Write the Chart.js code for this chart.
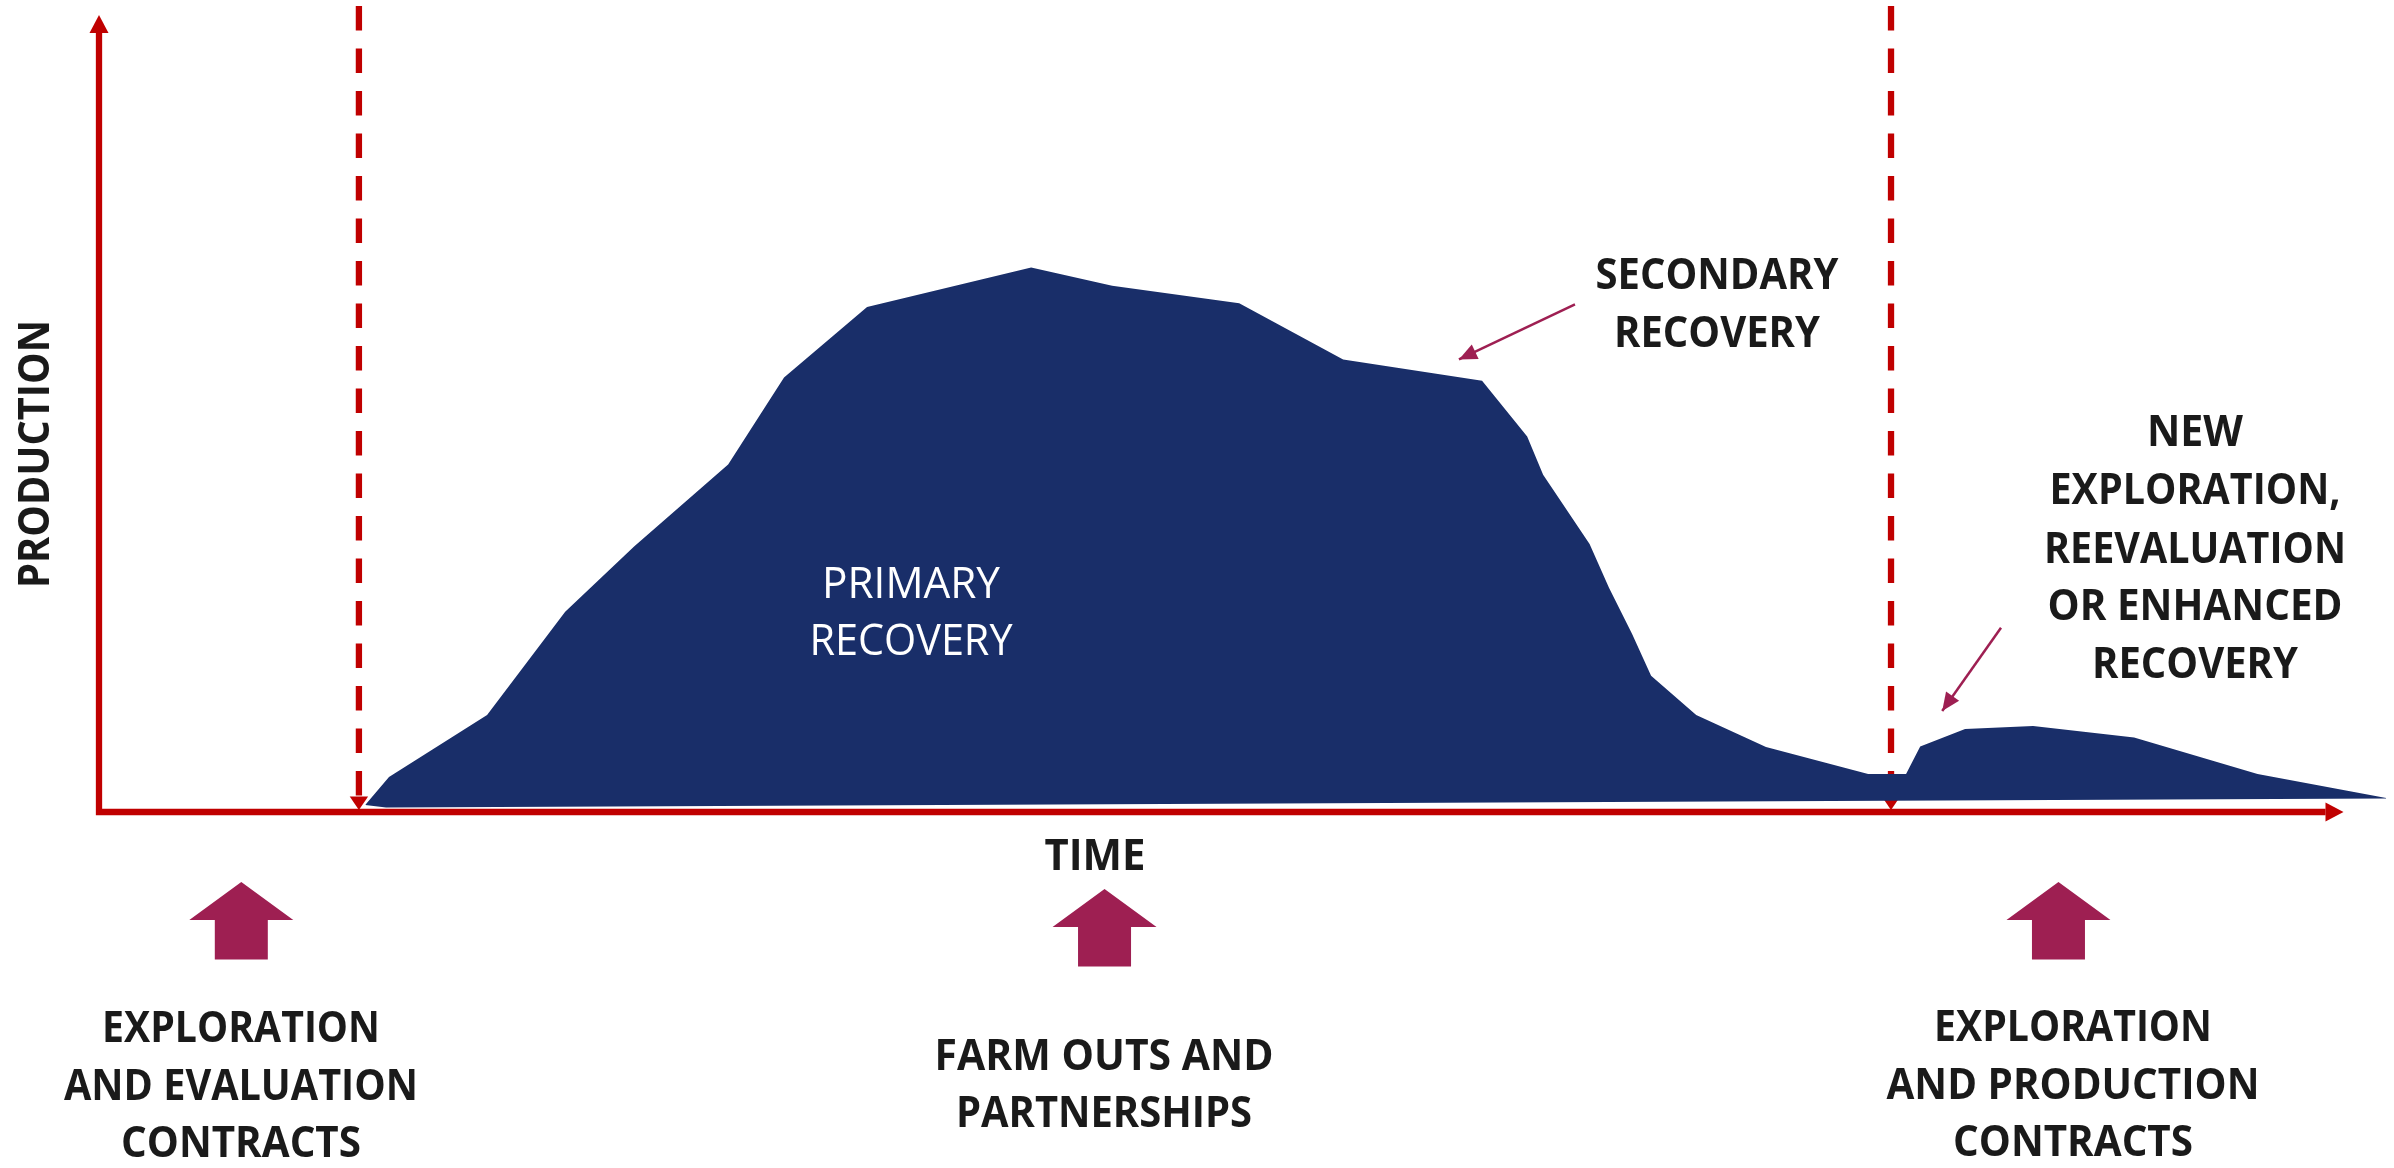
<!DOCTYPE html>
<html>
<head>
<meta charset="utf-8">
<style>html,body{margin:0;padding:0;background:#fff}canvas{display:block}</style>
<script src="https://cdn.jsdelivr.net/npm/chart.js@4/dist/chart.umd.min.js"></script>
</head>
<body>
<canvas id="c" width="2394" height="1168"></canvas>
<script>
// Production profile over a field's life (relative units, 0-100 on both axes)
const timeValues = [11.86,12.92,17.29,20.77,23.84,28.03,30.52,34.22,41.53,45.14,50.8,55.43,61.62,63.63,64.34,66.41,67.28,68.3,69.15,71.16,74.27,78.82,80.51,81.14,83.14,86.17,90.67,96.17,101.9];
const productionValues = [0.87,4.39,12.18,25.12,33.3,43.59,54.52,63.37,68.32,66.02,63.82,56.78,54.12,47.12,42.32,33.62,28.12,22.37,17.08,12.18,8.16,4.77,4.77,8.22,10.42,10.8,9.35,4.77,1.75];
// Lower edge of the filled profile
const floorTime = [11.86,12.79,101.9];
const floorProduction = [0.87,0.56,1.69];
// Phase boundaries on the time axis
const phaseBoundaries = [11.58,79.84];
// Callout leaders: [from, to] in chart units
const secondaryLeaderTime = [65.76,60.59];
const secondaryLeaderProduction = [63.69,56.78];
const enhancedLeaderTime = [84.74,82.12];
const enhancedLeaderProduction = [23.12,12.68];
// Contract-stage markers under the axis
const stageTime = [6.34,44.8,87.3];
const stageProduction = [-8.78,-9.66,-8.78];

const RED = '#C00000', NAVY = '#192E69', PLUM = '#9E1F52', INK = '#1A1A1A';
const CAP_HEIGHT = 30.7;
const pts = (xs, ys) => xs.map((x, i) => ({x, y: ys[i]}));

const labels = [
  {t:'SECONDARY', x:1717, y:274, w:243},
  {t:'RECOVERY', x:1717, y:332, w:206},
  {t:'NEW', x:2195, y:431, w:96},
  {t:'EXPLORATION,', x:2195, y:489, w:291},
  {t:'REEVALUATION', x:2195, y:548, w:302},
  {t:'OR ENHANCED', x:2195, y:605, w:295},
  {t:'RECOVERY', x:2195, y:663, w:206},
  {t:'PRIMARY', x:911, y:583, w:178, light:true},
  {t:'RECOVERY', x:911, y:640, w:203, light:true},
  {t:'TIME', x:1095, y:855, w:101},
  {t:'EXPLORATION', x:241, y:1027, w:278},
  {t:'AND EVALUATION', x:241, y:1085, w:354},
  {t:'CONTRACTS', x:241, y:1142, w:240},
  {t:'FARM OUTS AND', x:1104, y:1055, w:339},
  {t:'PARTNERSHIPS', x:1104, y:1112, w:296},
  {t:'EXPLORATION', x:2073, y:1026, w:278},
  {t:'AND PRODUCTION', x:2073, y:1084, w:373},
  {t:'CONTRACTS', x:2073, y:1141, w:240}
];

function head(ctx, tx, ty, fx, fy, len, half, color) {
  const a = Math.atan2(ty - fy, tx - fx);
  ctx.save();
  ctx.translate(tx, ty);
  ctx.rotate(a);
  ctx.fillStyle = color;
  ctx.beginPath();
  ctx.moveTo(0, 0);
  ctx.lineTo(-len, -half);
  ctx.lineTo(-len, half);
  ctx.closePath();
  ctx.fill();
  ctx.restore();
}

const decorations = {
  id: 'decorations',
  beforeDatasetsDraw(chart) {
    const {ctx, scales: {x, y}} = chart;
    const y0 = y.getPixelForValue(0);
    // axis arrowheads
    head(ctx, x.getPixelForValue(0), y.getPixelForValue(100), x.getPixelForValue(0), y0, 18, 9.5, RED);
    head(ctx, x.getPixelForValue(100), y0, x.getPixelForValue(0), y0, 18, 9.5, RED);
    // boundary arrowheads
    phaseBoundaries.forEach(b => {
      const px = x.getPixelForValue(b);
      head(ctx, px, y.getPixelForValue(0.25), px, 0, 13.5, 9.2, RED);
    });
  },
  afterDatasetsDraw(chart) {
    const {ctx, scales: {x, y}} = chart;
    // leader arrowheads
    [[secondaryLeaderTime, secondaryLeaderProduction],[enhancedLeaderTime, enhancedLeaderProduction]].forEach(([xs, ys]) => {
      head(ctx, x.getPixelForValue(xs[1]), y.getPixelForValue(ys[1]), x.getPixelForValue(xs[0]), y.getPixelForValue(ys[0]), 18, 8, PLUM);
    });
    // stage block arrows
    stageTime.forEach((t, i) => {
      const cx = x.getPixelForValue(t), ty = y.getPixelForValue(stageProduction[i]);
      ctx.fillStyle = PLUM;
      ctx.beginPath();
      ctx.moveTo(cx, ty);
      ctx.lineTo(cx + 52, ty + 38);
      ctx.lineTo(cx + 26.5, ty + 38);
      ctx.lineTo(cx + 26.5, ty + 77.5);
      ctx.lineTo(cx - 26.5, ty + 77.5);
      ctx.lineTo(cx - 26.5, ty + 38);
      ctx.lineTo(cx - 52, ty + 38);
      ctx.closePath();
      ctx.fill();
    });
    // text
    ctx.textAlign = 'center';
    ctx.textBaseline = 'alphabetic';
    labels.forEach(l => {
      ctx.font = l.light ? '400 43px "Open Sans"' : '700 43px "Open Sans"';
      ctx.fillStyle = l.light ? '#FFFFFF' : INK;
      ctx.fillText(l.t, l.x, l.y + CAP_HEIGHT / 2, l.w);
    });
    ctx.save();
    ctx.translate(34, 454);
    ctx.rotate(-Math.PI / 2);
    ctx.font = '700 43px "Open Sans"';
    ctx.fillStyle = INK;
    ctx.fillText('PRODUCTION', 0, CAP_HEIGHT / 2, 268);
    ctx.restore();
  }
};

new Chart(document.getElementById('c'), {
  type: 'scatter',
  plugins: [decorations],
  data: {
    datasets: [
      {label: 'Production', data: pts(timeValues, productionValues), showLine: true, tension: 0, borderWidth: 0, pointRadius: 0, backgroundColor: NAVY, fill: '+1', order: 1},
      {label: 'Floor', data: pts(floorTime, floorProduction), showLine: true, tension: 0, borderWidth: 0, pointRadius: 0, fill: false, order: 2},
      {label: 'Axes', data: pts([0,0,99.2], [97.8,0,0]), showLine: true, tension: 0, borderColor: RED, borderWidth: 6.3, pointRadius: 0, clip: false, order: 3, borderJoinStyle: 'miter', borderCapStyle: 'butt'},
      {label: 'Start', data: pts([phaseBoundaries[0],phaseBoundaries[0]], [101.13,2]), showLine: true, borderColor: RED, borderWidth: 6.3, borderDash: [24.5,18], pointRadius: 0, clip: false, order: 3},
      {label: 'End', data: pts([phaseBoundaries[1],phaseBoundaries[1]], [101.13,2]), showLine: true, borderColor: RED, borderWidth: 6.3, borderDash: [24.5,18], pointRadius: 0, clip: false, order: 3},
      {label: 'Secondary', data: pts(secondaryLeaderTime, secondaryLeaderProduction), showLine: true, borderColor: PLUM, borderWidth: 2.5, pointRadius: 0, clip: false, order: 0},
      {label: 'Enhanced', data: pts(enhancedLeaderTime, enhancedLeaderProduction), showLine: true, borderColor: PLUM, borderWidth: 2.5, pointRadius: 0, clip: false, order: 0}
    ]
  },
  options: {
    responsive: false,
    animation: false,
    layout: {padding: {left: 99, right: 5.6, top: 15, bottom: 356}},
    plugins: {legend: {display: false}, tooltip: {enabled: false}},
    scales: {
      x: {type: 'linear', min: 0, max: 102, display: false},
      y: {type: 'linear', min: 0, max: 100, display: false}
    }
  }
});
</script>
</body>
</html>
